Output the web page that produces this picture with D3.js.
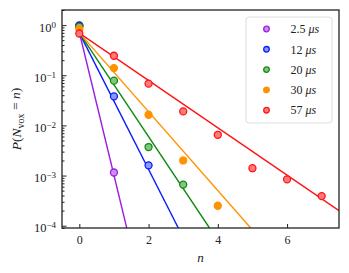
<!DOCTYPE html>
<html>
<head>
<meta charset="utf-8">
<script src="https://cdn.jsdelivr.net/npm/d3@7"></script>
<style>
  body { margin: 0; background: #fff; }
  text { font-family: "Liberation Serif", "DejaVu Serif", serif; fill: #222; }
</style>
</head>
<body>
<div id="chart"></div>
<script>
const labels = ["2.5", "12", "20", "30", "57"];
const colors = ["#9a1ee0", "#0a1cff", "#108a10", "#ff9200", "#ff1414"];
const fills = ["#cf8cf2", "#8a9aff", "#80c880", "#ff9200", "#ff7a7a"];

// measured points (n, P)
const pts25 = [[0, 0.99], [1, 1.15e-3]];
const pts12 = [[0, 0.97], [1, 0.038], [2, 1.6e-3]];
const pts20 = [[0, 0.93], [1, 0.078], [2, 3.7e-3], [3, 6.6e-4]];
const pts30 = [[0, 0.84], [1, 0.139], [2, 0.0163], [3, 2.0e-3], [4, 2.5e-4]];
const pts57 = [[0, 0.68], [1, 0.245], [2, 0.068], [3, 0.019], [4, 6.5e-3], [5, 1.4e-3], [6, 8.4e-4], [7, 3.9e-4]];

// fitted lines, endpoints (n, P)
const fit25 = [[0, 0.72], [1.37, 9e-5]];
const fit12 = [[0, 0.70], [2.86, 9e-5]];
const fit20 = [[0, 0.70], [3.76, 9e-5]];
const fit30 = [[0, 0.70], [4.95, 9e-5]];
const fit57 = [[0, 0.69], [7.5, 2.0e-4]];

const points = [pts25, pts12, pts20, pts30, pts57];
const fits = [fit25, fit12, fit20, fit30, fit57];

const xTicks = [0, 2, 4, 6];
const yTicks = [1, 1e-1, 1e-2, 1e-3, 1e-4];
const yExp = ["0", "\u22121", "\u22122", "\u22123", "\u22124"];

const W = 349, H = 273;
const margin = { top: 10, right: 10, bottom: 45, left: 62 };
const width = W - margin.left - margin.right;
const height = H - margin.top - margin.bottom;

const svg = d3.select("#chart").append("svg")
  .attr("width", W).attr("height", H);

svg.append("defs").append("clipPath").attr("id", "clip")
  .append("rect").attr("width", width).attr("height", height);

const g = svg.append("g")
  .attr("transform", `translate(${margin.left},${margin.top})`);

const x = d3.scaleLinear().domain([-0.5, 7.5]).range([0, width]);
const y = d3.scaleLog().domain([9e-5, 2]).range([height, 0]);

const line = d3.line()
  .x(d => x(d[0]))
  .y(d => y(d[1]));

// fit lines
const plot = g.append("g").attr("clip-path", "url(#clip)");
fits.forEach((f, i) => {
  plot.append("path")
    .datum(f)
    .attr("fill", "none")
    .attr("stroke", colors[i])
    .attr("stroke-width", 1.4)
    .attr("d", line);
});

// markers
points.forEach((p, i) => {
  plot.selectAll(null)
    .data(p)
    .enter().append("circle")
    .attr("cx", d => x(d[0]))
    .attr("cy", d => y(d[1]))
    .attr("r", 3.5)
    .attr("fill", fills[i])
    .attr("stroke", colors[i])
    .attr("stroke-width", 1.3);
});

// x axis
const xAxis = d3.axisBottom(x).tickValues(xTicks).tickSize(-4).tickPadding(7).tickFormat(d3.format("d"));
const gx = g.append("g")
  .attr("transform", `translate(0,${height})`)
  .call(xAxis);
gx.select(".domain").remove();
gx.selectAll("text").style("font-size", "12px").attr("fill", "#222");
gx.selectAll("line").attr("stroke", "#222");

// y axis major
const yAxis = d3.axisLeft(y).tickValues(yTicks).tickSize(-4.5).tickPadding(6).tickFormat(() => "");
const gy = g.append("g").call(yAxis);
gy.select(".domain").remove();
gy.selectAll("line").attr("stroke", "#222");
gy.selectAll(".tick text").each(function(d, i) {
  const t = d3.select(this).style("font-size", "12.5px").attr("fill", "#222");
  t.append("tspan").text("10");
  t.append("tspan").text(yExp[i]).attr("dy", "-0.45em").style("font-size", "9px");
  t.attr("dy", "0.5em");
});

// y axis minor
const minor = [];
for (let e = -5; e <= 0; e++) {
  for (let k = 2; k <= 9; k++) {
    const v = k * Math.pow(10, e);
    if (v >= 9e-5 && v <= 2) minor.push(v);
  }
}
const yMinor = d3.axisLeft(y).tickValues(minor).tickSize(-2.5).tickFormat("");
const gym = g.append("g").call(yMinor);
gym.select(".domain").remove();
gym.selectAll("line").attr("stroke", "#222");

// frame
g.append("rect")
  .attr("width", width).attr("height", height)
  .attr("fill", "none")
  .attr("stroke", "#222")
  .attr("stroke-width", 1.3);

// axis labels
g.append("text")
  .attr("x", width / 2).attr("y", height + 34)
  .attr("text-anchor", "middle")
  .style("font-size", "13px").style("font-style", "italic")
  .text("n");

const yl = svg.append("text")
  .attr("transform", `translate(21,${margin.top + height / 2}) rotate(-90)`)
  .attr("text-anchor", "middle")
  .style("font-size", "13.5px");
yl.append("tspan").style("font-style", "italic").text("P");
yl.append("tspan").text("(");
yl.append("tspan").style("font-style", "italic").text("N");
yl.append("tspan").text("vox").attr("dy", "0.3em").style("font-size", "10px");
yl.append("tspan").text(" = ").attr("dy", "-0.3em");
yl.append("tspan").style("font-style", "italic").text("n");
yl.append("tspan").text(")");

// legend
const lg = svg.append("g").attr("transform", "translate(246,17)");
lg.append("rect")
  .attr("width", 86).attr("height", 106)
  .attr("rx", 3)
  .attr("fill", "#fff").attr("fill-opacity", 0.8)
  .attr("stroke", "#ddd").attr("stroke-width", 1);
labels.forEach((l, i) => {
  const row = lg.append("g").attr("transform", `translate(0,${12 + i * 20.3})`);
  row.append("circle")
    .attr("cx", 20.5).attr("cy", 0).attr("r", 2.8)
    .attr("fill", fills[i]).attr("stroke", colors[i]).attr("stroke-width", 1.3);
  const t = row.append("text").attr("x", 44.5).attr("dy", "0.35em").style("font-size", "12px");
  t.append("tspan").text(l + " ");
  t.append("tspan").style("font-style", "italic").text("\u03bc");
  t.append("tspan").style("font-style", "italic").text("s");
});
</script>
</body>
</html>
